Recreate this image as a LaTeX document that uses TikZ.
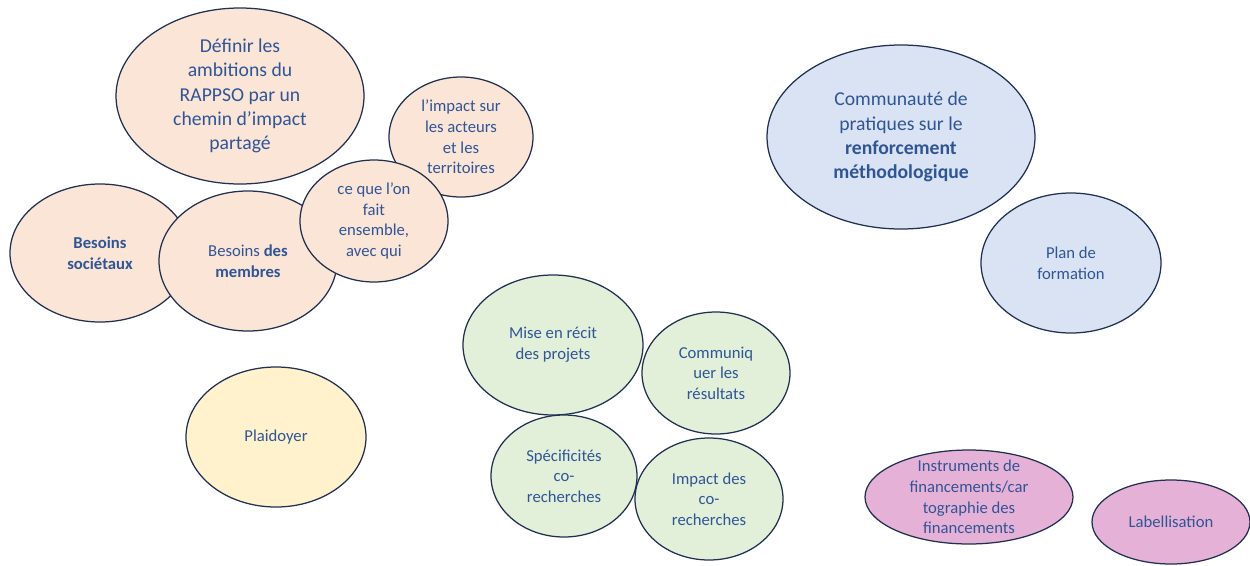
\documentclass[tikz,border=0pt]{standalone}
\usepackage{fontspec}
\setmainfont{Carlito}
\usetikzlibrary{shapes.geometric}
\definecolor{peche}{HTML}{FBE5D6}
\definecolor{vert}{HTML}{E2F0D9}
\definecolor{bleu}{HTML}{DAE3F3}
\definecolor{jaune}{HTML}{FFF2CC}
\definecolor{rose}{HTML}{E6B1D6}
\definecolor{encre}{HTML}{2F5597}
\definecolor{contour}{HTML}{1F3050}
\tikzset{
  bulle/.style={ellipse, draw=contour, line width=0.75pt, inner sep=0pt},
  taille/.style 2 args={minimum width=#1*1.2pt, minimum height=#2*1.2pt},
  txt/.style={align=center, text=encre, font=\fontsize{10}{12.4}\selectfont},
  grand/.style={txt, font=\fontsize{11.8}{14.5}\selectfont}
}
\begin{document}
\begin{tikzpicture}[x=0.6pt,y=-0.6pt]
    \useasboundingbox (0,0) rectangle (1250,565);

    % Impact
    \node[bulle, fill=peche, taille={124}{88}] (definir) at (240,96) {};
    \node[grand] (definir-t) at (definir) {D\'efinir les\\ambitions du\\RAPPSO par un\\chemin d'impact\\partag\'e};
    \node[bulle, fill=peche, taille={90}{69}] (societaux) at (100,253) {};
    \node[txt] (societaux-t) at (societaux) {\textbf{Besoins}\\\textbf{soci\'etaux}};
    \node[bulle, fill=peche, taille={89}{70}] (membres) at (248,261) {};
    \node[txt] (membres-t) at (membres) {Besoins \textbf{des}\\\textbf{membres}};
    \node[bulle, fill=peche, taille={72}{60}] (acteurs) at (461,137) {};
    \node[txt] (acteurs-t) at (acteurs) {l'impact sur\\les acteurs\\et les\\territoires};
    \node[bulle, fill=peche, taille={74}{61}] (ensemble) at (374,221) {};
    \node[txt] (ensemble-t) at (ensemble) {ce que l'on\\fait\\ensemble,\\avec qui};

    % Plaidoyer
    \node[bulle, fill=jaune, taille={90}{70}] (plaidoyer) at (276,437) {};
    \node[txt] (plaidoyer-t) at (plaidoyer) {Plaidoyer};

    % Valorisation
    \node[bulle, fill=vert, taille={90}{70}] (recit) at (553,345) {};
    \node[txt] (recit-t) at (recit) {Mise en r\'ecit\\des projets};
    \node[bulle, fill=vert, taille={74}{61}] (resultats) at (716,373) {};
    \node[txt] (resultats-t) at (resultats) {Communiq\\uer les\\r\'esultats};
    \node[bulle, fill=vert, taille={73}{61}] (specificites) at (564,476) {};
    \node[txt] (specificites-t) at (specificites) {Sp\'ecificit\'es\\co-\\recherches};
    \node[bulle, fill=vert, taille={74}{61}] (impact) at (709,499) {};
    \node[txt] (impact-t) at (impact) {Impact des\\co-\\recherches};

    % Methodes
    \node[bulle, fill=bleu, taille={134}{92}] (communaute) at (901,137) {};
    \node[grand] (communaute-t) at (communaute) {Communaut\'e de\\pratiques sur le\\\textbf{renforcement}\\\textbf{m\'ethodologique}};
    \node[bulle, fill=bleu, taille={90}{70}] (formation) at (1071,263) {};
    \node[txt] (formation-t) at (formation) {Plan de\\formation};

    % Financements
    \node[bulle, fill=rose, taille={104}{47}] (instruments) at (969,497) {};
    \node[txt] (instruments-t) at (instruments) {Instruments de\\financements/car\\tographie des\\financements};
    \node[bulle, fill=rose, taille={79}{42}] (label) at (1171,522) {};
    \node[txt] (label-t) at (label) {Labellisation};
\end{tikzpicture}
\end{document}
